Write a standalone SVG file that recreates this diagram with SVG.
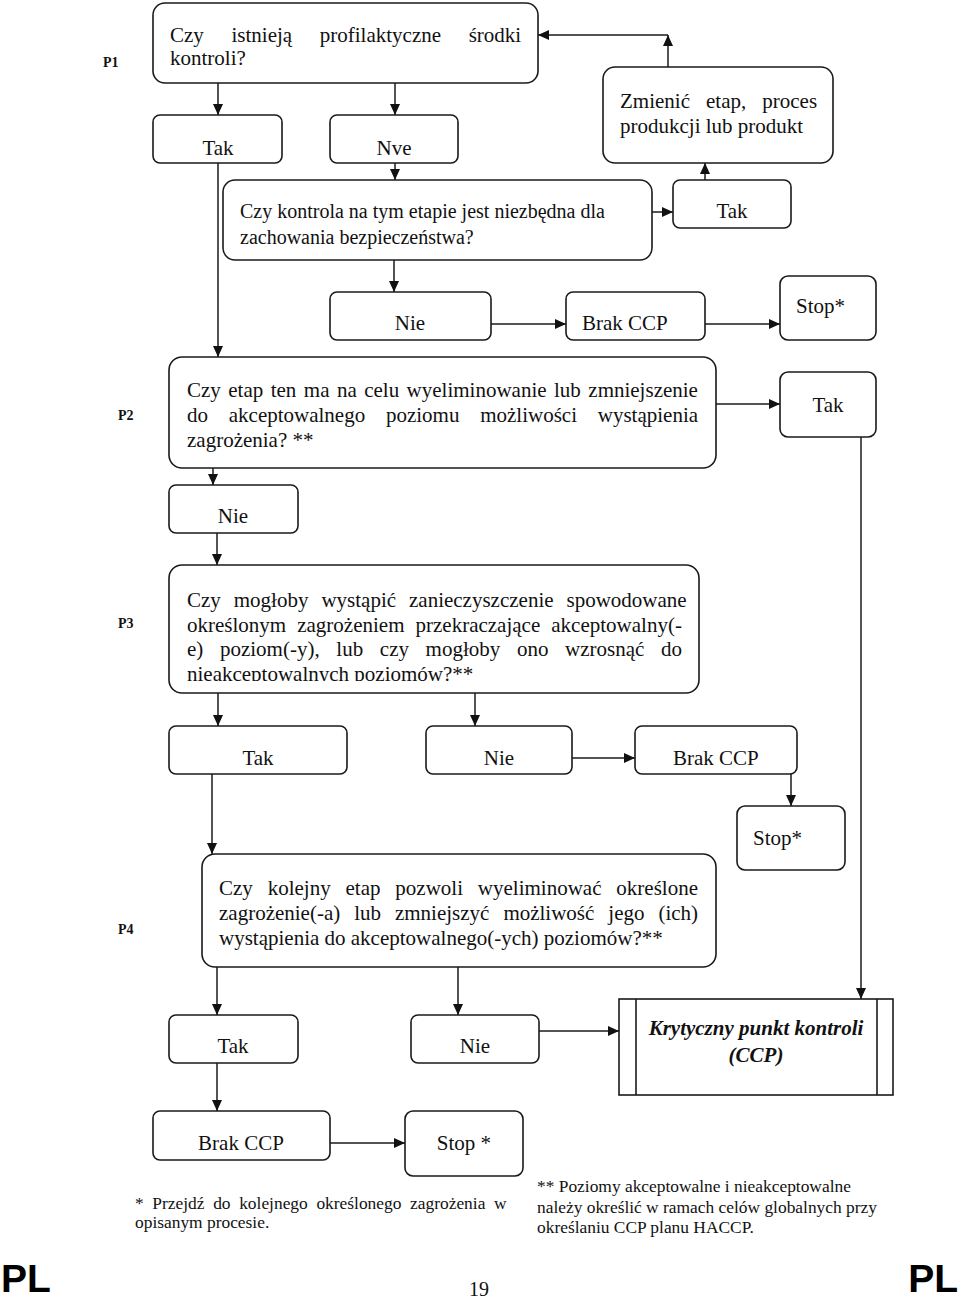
<svg xmlns="http://www.w3.org/2000/svg" width="960" height="1299" viewBox="0 0 960 1299">
<style>
.b{fill:#fff;stroke:#1a1a1a;stroke-width:1.6}
.t{font-family:"Liberation Serif","Times New Roman",serif;font-size:21px;fill:#111}
.m{text-anchor:middle}
.s{font-size:20px}
.f{font-size:17.4px}
.bi{font-weight:bold;font-style:italic}
.p{font-family:"Liberation Serif","Times New Roman",serif;font-size:14px;font-weight:bold;fill:#111}
.pl{font-family:"Liberation Sans",Arial,sans-serif;font-size:39px;font-weight:bold;fill:#000}
.c{stroke:#1a1a1a;stroke-width:1.5;fill:none;marker-end:url(#ah)}
</style>
<defs>
<marker id="ah" markerUnits="userSpaceOnUse" markerWidth="11" markerHeight="10" refX="11" refY="5" orient="auto">
<path d="M0,0 L11,5 L0,10 z" fill="#111"/>
</marker>
<clipPath id="clipP3"><rect x="169" y="565" width="530" height="116"/></clipPath>
</defs>
<rect width="960" height="1299" fill="#fff"/>

<g id="labels">
<text class="p" x="103" y="67">P1</text>
<text class="p" x="118" y="420">P2</text>
<text class="p" x="118" y="628">P3</text>
<text class="p" x="118" y="934">P4</text>
</g>

<g id="connectors">
<line class="c" x1="218" y1="83" x2="218" y2="115"/>
<line class="c" x1="395" y1="83" x2="395" y2="115"/>
<line class="c" x1="395" y1="163" x2="395" y2="180"/>
<line class="c" x1="218" y1="163" x2="218" y2="357"/>
<line class="c" x1="652" y1="212" x2="673" y2="212"/>
<line class="c" x1="705" y1="180" x2="705" y2="163"/>
<line class="c" x1="668" y1="67" x2="668" y2="35"/>
<line class="c" x1="668" y1="35" x2="538" y2="35"/>
<line class="c" x1="394" y1="260" x2="394" y2="292"/>
<line class="c" x1="491" y1="324" x2="566" y2="324"/>
<line class="c" x1="705" y1="324" x2="780" y2="324"/>
<line class="c" x1="716" y1="404" x2="780" y2="404"/>
<line class="c" x1="213" y1="468" x2="213" y2="485"/>
<line class="c" x1="217" y1="533" x2="217" y2="565"/>
<line class="c" x1="861" y1="437" x2="861" y2="999"/>
<line class="c" x1="218" y1="693" x2="218" y2="726"/>
<line class="c" x1="475" y1="693" x2="475" y2="726"/>
<line class="c" x1="572" y1="758" x2="635" y2="758"/>
<line class="c" x1="791" y1="774" x2="791" y2="806"/>
<line class="c" x1="212" y1="774" x2="212" y2="854"/>
<line class="c" x1="217" y1="967" x2="217" y2="1015"/>
<line class="c" x1="458" y1="967" x2="458" y2="1015"/>
<line class="c" x1="539" y1="1031" x2="619" y2="1031"/>
<line class="c" x1="217" y1="1063" x2="217" y2="1111"/>
<line class="c" x1="330" y1="1143" x2="405" y2="1143"/>
</g>

<g id="p1">
<rect class="b" x="153" y="3" width="385" height="80" rx="12"/>
<text class="t" x="170" y="42" style="word-spacing:22.4px">Czy istnieją profilaktyczne środki</text>
<text class="t" x="170" y="65">kontroli?</text>
</g>
<g id="tak1">
<rect class="b" x="153" y="115" width="129" height="48" rx="7"/>
<text class="t m" x="218" y="155">Tak</text>
</g>
<g id="nve">
<rect class="b" x="330" y="115" width="128" height="48" rx="7"/>
<text class="t m" x="394" y="155">Nve</text>
</g>
<g id="zmien">
<rect class="b" x="603" y="67" width="230" height="96" rx="12"/>
<text class="t" x="620" y="108" style="word-spacing:10.8px">Zmienić etap, proces</text>
<text class="t" x="620" y="133">produkcji lub produkt</text>
</g>
<g id="q2">
<rect class="b" x="223" y="180" width="429" height="80" rx="12"/>
<text class="t s" x="240" y="218">Czy kontrola na tym etapie jest niezbędna dla</text>
<text class="t s" x="240" y="244">zachowania bezpieczeństwa?</text>
</g>
<g id="tak2">
<rect class="b" x="673" y="180" width="118" height="48" rx="7"/>
<text class="t m" x="732" y="218">Tak</text>
</g>
<g id="nie1">
<rect class="b" x="330" y="292" width="161" height="48" rx="7"/>
<text class="t m" x="410" y="330">Nie</text>
</g>
<g id="brak1">
<rect class="b" x="566" y="292" width="139" height="48" rx="7"/>
<text class="t" x="582" y="330">Brak CCP</text>
</g>
<g id="stop1">
<rect class="b" x="780" y="276" width="96" height="64" rx="8"/>
<text class="t" x="796" y="313">Stop*</text>
</g>

<g id="p2">
<rect class="b" x="169" y="357" width="547" height="111" rx="13"/>
<text class="t" x="187" y="397" style="word-spacing:2.2px">Czy etap ten ma na celu wyeliminowanie lub zmniejszenie</text>
<text class="t" x="187" y="422" style="word-spacing:15.5px">do akceptowalnego poziomu możliwości wystąpienia</text>
<text class="t" x="187" y="447">zagrożenia? **</text>
</g>
<g id="takP2">
<rect class="b" x="780" y="372" width="96" height="65" rx="8"/>
<text class="t m" x="828" y="412">Tak</text>
</g>
<g id="nieP2">
<rect class="b" x="169" y="485" width="129" height="48" rx="7"/>
<text class="t m" x="233" y="523">Nie</text>
</g>

<g id="p3">
<rect class="b" x="169" y="565" width="530" height="128" rx="13"/>
<g clip-path="url(#clipP3)">
<text class="t" x="187" y="607" style="word-spacing:7.7px">Czy mogłoby wystąpić zanieczyszczenie spowodowane</text>
<text class="t" x="187" y="632" style="word-spacing:5.8px">określonym zagrożeniem przekraczające akceptowalny(-</text>
<text class="t" x="187" y="656" style="word-spacing:11.4px">e) poziom(-y), lub czy mogłoby ono wzrosnąć do</text>
<text class="t" x="187" y="681">nieakceptowalnych poziomów?**</text>
</g>
</g>
<g id="takP3">
<rect class="b" x="169" y="726" width="178" height="48" rx="7"/>
<text class="t m" x="258" y="765">Tak</text>
</g>
<g id="nieP3">
<rect class="b" x="426" y="726" width="146" height="48" rx="7"/>
<text class="t m" x="499" y="765">Nie</text>
</g>
<g id="brakP3">
<rect class="b" x="635" y="726" width="162" height="48" rx="7"/>
<text class="t" x="673" y="765">Brak CCP</text>
</g>
<g id="stopP3">
<rect class="b" x="737" y="806" width="108" height="64" rx="8"/>
<text class="t" x="753" y="845">Stop*</text>
</g>

<g id="p4">
<rect class="b" x="202" y="854" width="514" height="113" rx="13"/>
<text class="t" x="219" y="895" style="word-spacing:9.6px">Czy kolejny etap pozwoli wyeliminować określone</text>
<text class="t" x="219" y="920" style="word-spacing:8.7px">zagrożenie(-a) lub zmniejszyć możliwość jego (ich)</text>
<text class="t" x="219" y="945">wystąpienia do akceptowalnego(-ych) poziomów?**</text>
</g>
<g id="takP4">
<rect class="b" x="169" y="1015" width="129" height="48" rx="7"/>
<text class="t m" x="233" y="1053">Tak</text>
</g>
<g id="nieP4">
<rect class="b" x="411" y="1015" width="128" height="48" rx="7"/>
<text class="t m" x="475" y="1053">Nie</text>
</g>
<g id="ccp">
<rect class="b" x="619" y="999" width="274" height="96"/>
<line x1="636" y1="999" x2="636" y2="1095" stroke="#1a1a1a" stroke-width="1.6"/>
<line x1="877" y1="999" x2="877" y2="1095" stroke="#1a1a1a" stroke-width="1.6"/>
<text class="t m bi" x="756" y="1035">Krytyczny punkt kontroli</text>
<text class="t m bi" x="756" y="1062">(CCP)</text>
</g>
<g id="brakB">
<rect class="b" x="153" y="1111" width="177" height="49" rx="7"/>
<text class="t m" x="241" y="1150">Brak CCP</text>
</g>
<g id="stopB">
<rect class="b" x="405" y="1111" width="118" height="65" rx="8"/>
<text class="t m" x="464" y="1150">Stop *</text>
</g>

<g id="footnotes">
<text class="t f" x="135" y="1209" style="word-spacing:4.3px">* Przejdź do kolejnego określonego zagrożenia w</text>
<text class="t f" x="135" y="1228">opisanym procesie.</text>
<text class="t f" x="537" y="1192">** Poziomy akceptowalne i nieakceptowalne</text>
<text class="t f" x="537" y="1213">należy określić w ramach celów globalnych przy</text>
<text class="t f" x="537" y="1233">określaniu CCP planu HACCP.</text>
<text class="t m s" x="479" y="1296">19</text>
<text class="pl" x="1" y="1292">PL</text>
<text class="pl" x="958" y="1292" text-anchor="end">PL</text>
</g>
</svg>
